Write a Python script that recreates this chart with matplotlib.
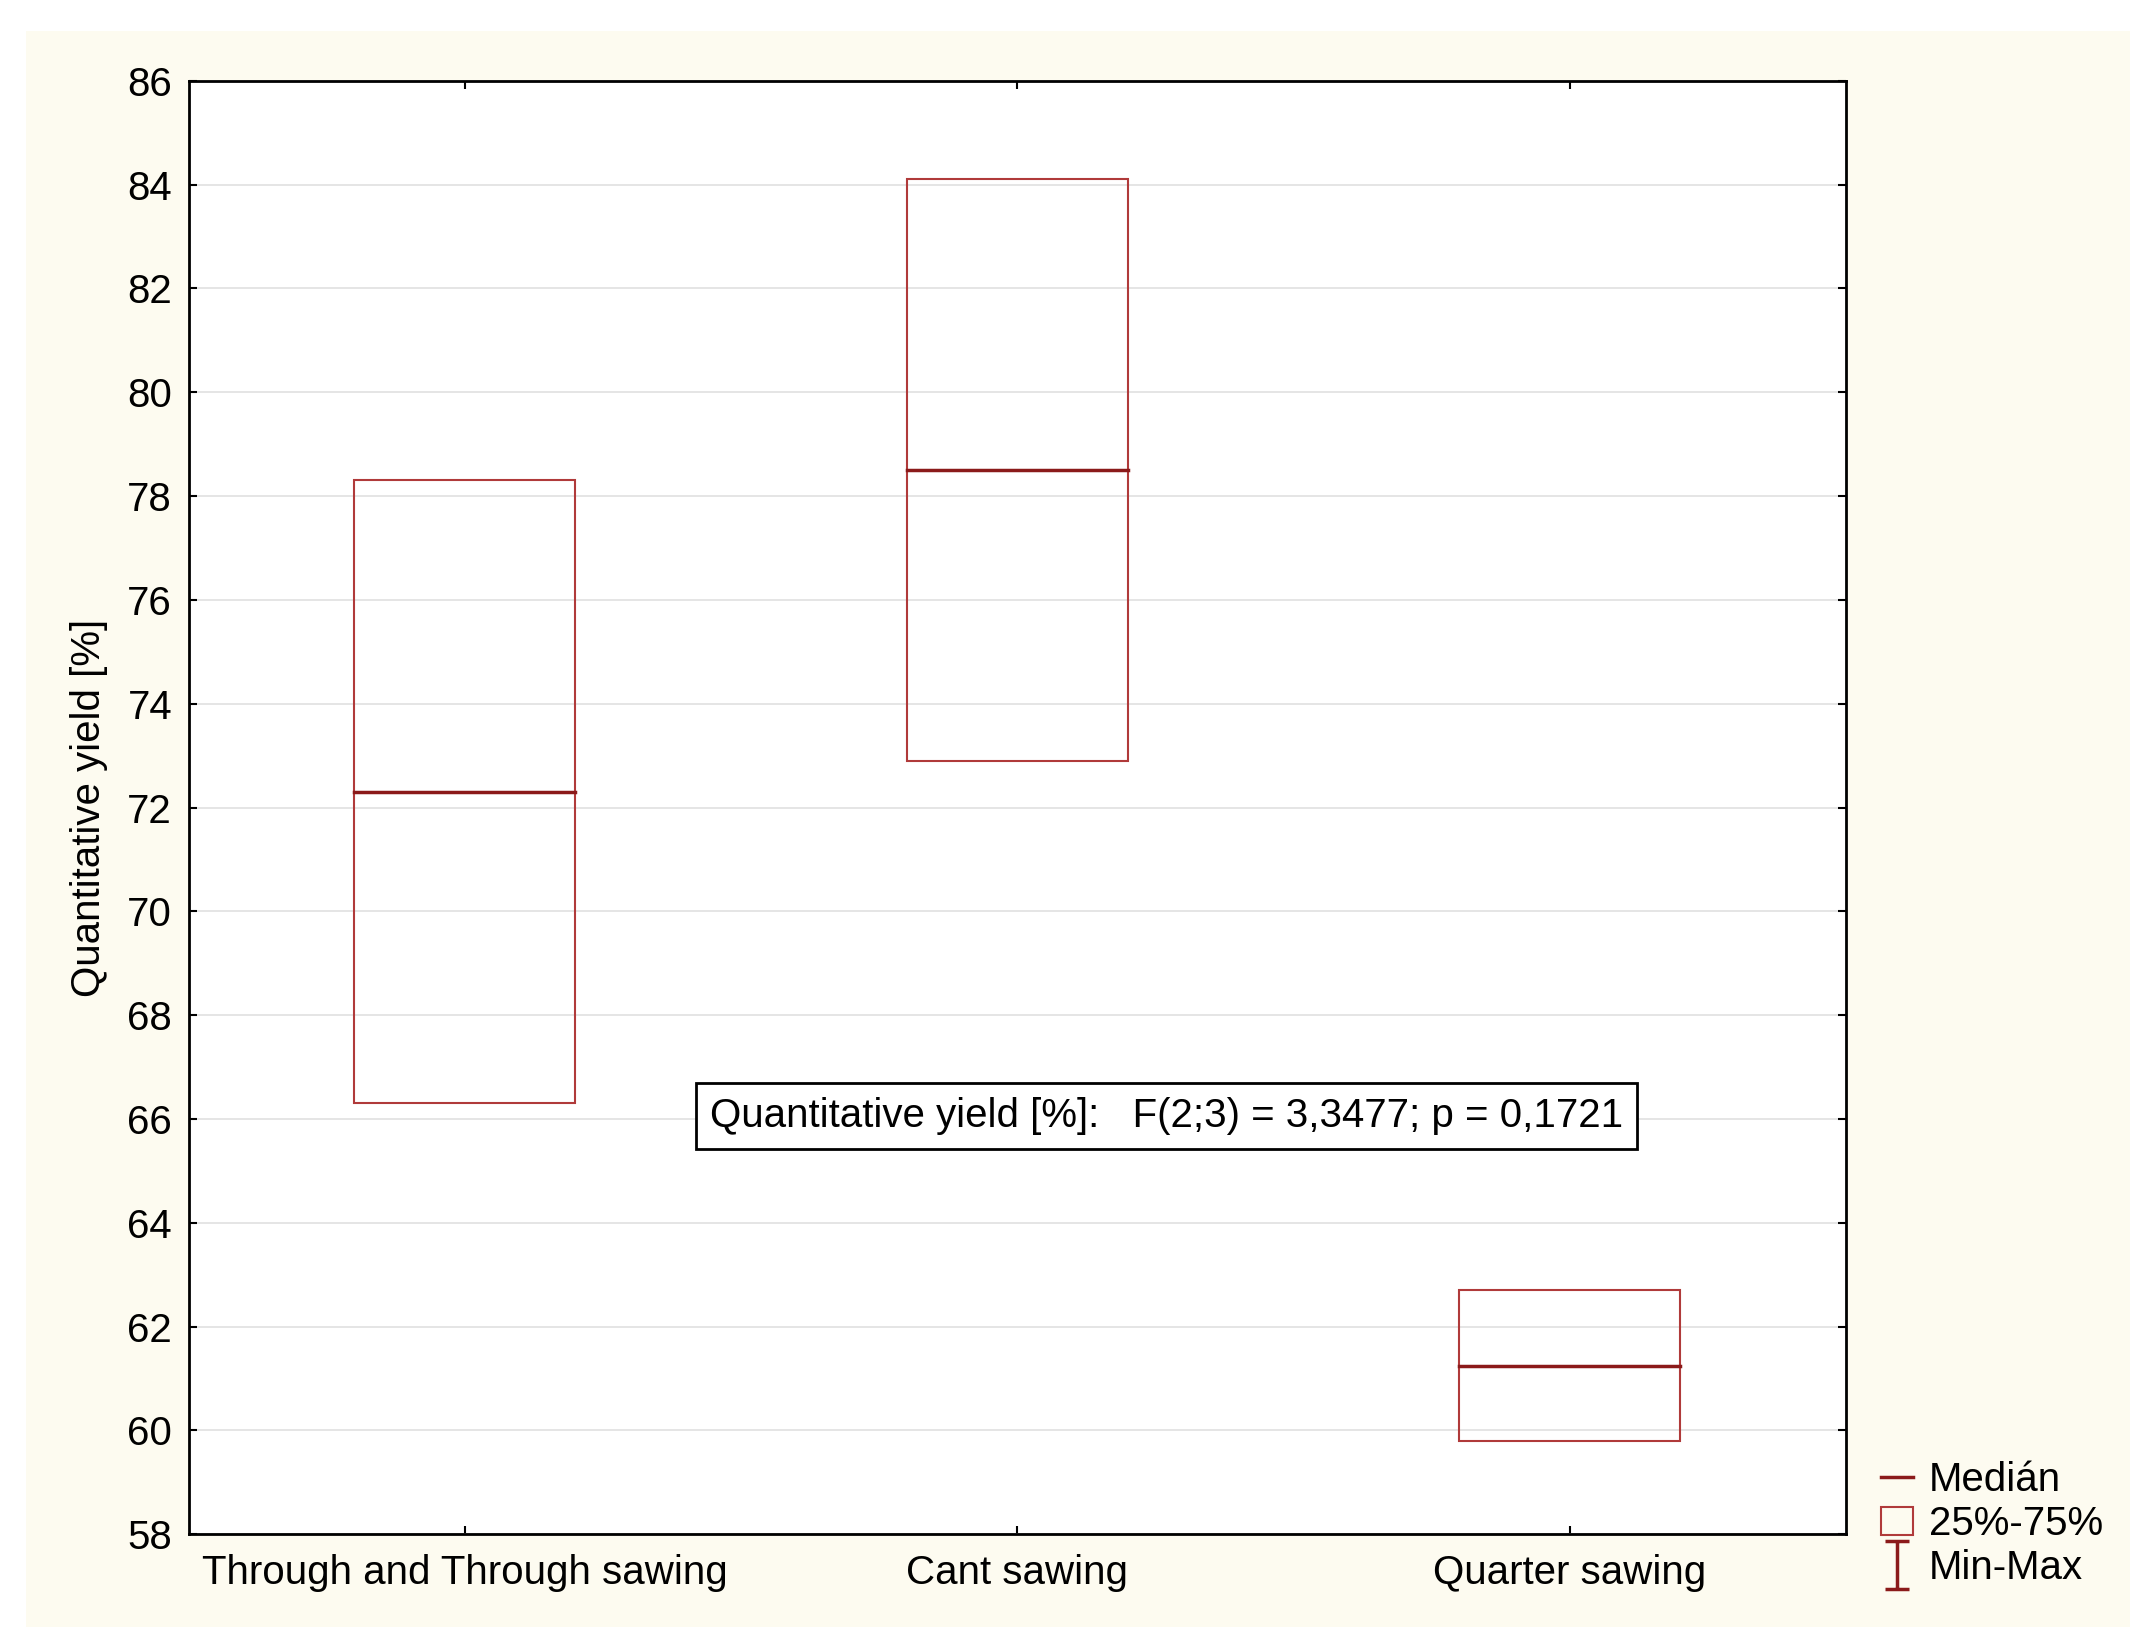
import matplotlib.pyplot as plt
from matplotlib.patches import Rectangle
from matplotlib.lines import Line2D
from matplotlib.path import Path

plt.rcParams['font.family'] = ['Liberation Sans', 'DejaVu Sans']

groups = ["Through and Through sawing", "Cant sawing", "Quarter sawing"]
mins = [66.3, 72.9, 59.8]
q1 = [66.3, 72.9, 59.8]
medians = [72.3, 78.5, 61.25]
q3 = [78.3, 84.1, 62.7]
maxs = [78.3, 84.1, 62.7]

red = "#b03a3a"
dred = "#8b1a1a"
fs = 29

fig = plt.figure(figsize=(21.52, 16.48), dpi=100)
fig.patches.append(Rectangle((0.012, 0.013), 0.978, 0.968, transform=fig.transFigure,
                             facecolor="#fdfbf0", edgecolor="none", zorder=-1))
ax = fig.add_axes([0.0877, 0.069, 0.770, 0.882])
ax.set_facecolor("white")

w = 0.4
for i in range(3):
    x = i + 0.5
    ax.add_patch(Rectangle((x - w / 2, q1[i]), w, q3[i] - q1[i], fill=False,
                           edgecolor=red, linewidth=1.5, zorder=3))
    ax.plot([x - w / 2, x + w / 2], [medians[i]] * 2, color=dred, linewidth=2.5, zorder=4)
    ax.plot([x, x], [mins[i], q1[i]], color=red, linewidth=1.5)
    ax.plot([x, x], [q3[i], maxs[i]], color=red, linewidth=1.5)
    ax.plot([x - w / 2, x + w / 2], [mins[i]] * 2, color=red, linewidth=1.2)
    ax.plot([x - w / 2, x + w / 2], [maxs[i]] * 2, color=red, linewidth=1.2)

ax.set_xlim(0, 3)
ax.set_ylim(58, 86)
ax.set_yticks(range(58, 87, 2))
ax.set_xticks([0.5, 1.5, 2.5])
ax.set_xticklabels(groups)
ax.tick_params(labelsize=fs, direction="in", length=6, top=True, right=True, width=1.5)
ax.tick_params(axis="x", pad=14)
ax.tick_params(axis="y", pad=12)
ax.yaxis.grid(True, color="#e0e0e0", linewidth=1.2)
ax.set_axisbelow(True)
for s in ax.spines.values():
    s.set_linewidth(2)
ax.set_ylabel("Quantitative yield [%]", fontsize=fs, labelpad=14)

ax.text(1.77, 66.05, "Quantitative yield [%]:   F(2;3) = 3,3477; p = 0,1721",
        fontsize=fs, ha="center", va="center",
        bbox=dict(boxstyle="square,pad=0.35", facecolor="white", edgecolor="black", linewidth=2))

capbar = Path([(-0.5, -1), (0.5, -1), (0, -1), (0, 1), (-0.5, 1), (0.5, 1)],
              [Path.MOVETO, Path.LINETO, Path.MOVETO, Path.LINETO, Path.MOVETO, Path.LINETO])
handles = [Line2D([], [], color=dred, linewidth=2.5),
           Rectangle((0, 0), 1, 1, fill=False, edgecolor=red, linewidth=1.5),
           Line2D([], [], color=dred, marker=capbar, linestyle="none", markersize=34,
                  markeredgewidth=2.5)]
fig.legend(handles, ["Medián", "25%-75%", "Min-Max"], loc="lower left",
           bbox_to_anchor=(0.857, 0.015), frameon=False, fontsize=fs,
           handlelength=0.8, handletextpad=0.4, labelspacing=0.15)

fig.savefig("out.png", dpi=100)
